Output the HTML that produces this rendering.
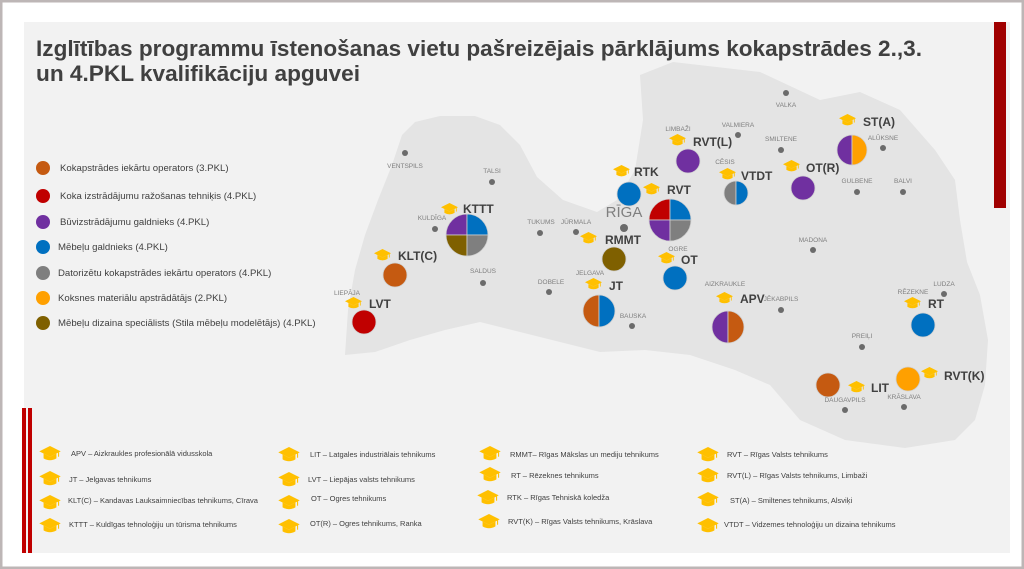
<!DOCTYPE html>
<html><head><meta charset="utf-8"><style>
body{margin:0;background:#fff;}
svg{display:block;font-family:"Liberation Sans",sans-serif;}
</style></head><body>
<svg width="1024" height="569" viewBox="0 0 1024 569" xmlns="http://www.w3.org/2000/svg">
<defs>
<symbol id="cap" viewBox="0 0 20 14">
<polygon points="0,5 10,0 20,5 10,10" fill="#ffc000"/>
<path d="M4,7 L4,11.5 Q10,15 16,11.5 L16,7 L10,10 Z" fill="#ffc000"/>
<path d="M18,5.5 L18,10" stroke="#ffc000" stroke-width="1"/>
</symbol>
</defs>
<rect x="0" y="0" width="1024" height="569" fill="#fff"/>
<rect x="1" y="1" width="1022" height="567" fill="none" stroke="#bdb6b6" stroke-width="3"/>
<rect x="24" y="22" width="986" height="531" fill="#f2f2f2"/>
<rect x="994" y="22" width="12" height="186" fill="#a00000"/>
<rect x="22" y="408" width="4" height="145" fill="#c00000"/>
<rect x="28" y="408" width="4" height="145" fill="#c00000"/>

<!-- map -->
<path d="M345,355 L348,310 L355,270 L365,235 L378,200 L392,165 L402,135 L415,122 L440,116 L475,116 L500,125 L520,145 L537,177 L563,200 L597,212 L617,200 L635,170 L643,120 L640,75 L673,62 L760,72 L820,100 L860,92 L900,110 L935,150 L955,180 L960,220 L967,262 L980,295 L988,340 L985,385 L975,420 L955,440 L905,448 L845,440 L800,420 L770,385 L735,370 L690,355 L645,350 L600,352 L560,342 L520,332 L480,322 L445,330 L410,340 L375,352 Z" fill="#e4e4e4"/>

<!-- title -->
<text x="36" y="56" font-size="22" font-weight="bold" fill="#404040" textLength="886" lengthAdjust="spacingAndGlyphs">Izglītības programmu īstenošanas vietu pašreizējais pārklājums kokapstrādes 2.,3.</text>
<text x="36" y="81" font-size="22" font-weight="bold" fill="#404040" textLength="324" lengthAdjust="spacingAndGlyphs">un 4.PKL  kvalifikāciju apguvei</text>

<!-- left legend -->
<g font-size="9.6" fill="#404040">
<circle cx="43" cy="168" r="7" fill="#c55a11"/><text x="60" y="171">Kokapstrādes iekārtu operators (3.PKL)</text>
<circle cx="43" cy="196" r="7" fill="#c00000"/><text x="60" y="199">Koka izstrādājumu ražošanas tehniķis (4.PKL)</text>
<circle cx="43" cy="222" r="7" fill="#7030a0"/><text x="60" y="225">Būvizstrādājumu galdnieks (4.PKL)</text>
<circle cx="43" cy="247" r="7" fill="#0070c0"/><text x="58" y="250">Mēbeļu galdnieks (4.PKL)</text>
<circle cx="43" cy="273" r="7" fill="#7f7f7f"/><text x="58" y="276">Datorizētu kokapstrādes iekārtu operators (4.PKL)</text>
<circle cx="43" cy="298" r="7" fill="#ffa000"/><text x="58" y="301">Koksnes materiālu apstrādātājs (2.PKL)</text>
<circle cx="43" cy="323" r="7" fill="#7f6000"/><text x="58" y="326">Mēbeļu dizaina speciālists (Stila mēbeļu modelētājs) (4.PKL)</text>
</g>

<!-- city dots -->
<g fill="#6b6b6b">
<circle cx="405" cy="153" r="3"/><circle cx="492" cy="182" r="3"/><circle cx="435" cy="229" r="3"/>
<circle cx="540" cy="233" r="3"/><circle cx="576" cy="232" r="3"/><circle cx="624" cy="228" r="4"/>
<circle cx="483" cy="283" r="3"/><circle cx="549" cy="292" r="3"/><circle cx="632" cy="326" r="3"/>
<circle cx="786" cy="93" r="3"/><circle cx="738" cy="135" r="3"/><circle cx="781" cy="150" r="3"/>
<circle cx="883" cy="148" r="3"/><circle cx="857" cy="192" r="3"/><circle cx="903" cy="192" r="3"/>
<circle cx="813" cy="250" r="3"/><circle cx="781" cy="310" r="3"/><circle cx="944" cy="294" r="3"/>
<circle cx="862" cy="347" r="3"/><circle cx="845" cy="410" r="3"/><circle cx="904" cy="407" r="3"/>
</g>
<g font-size="6.5" fill="#7f7f7f" text-anchor="middle">
<text x="405" y="168">VENTSPILS</text><text x="492" y="173">TALSI</text><text x="432" y="220">KULDĪGA</text>
<text x="541" y="224">TUKUMS</text><text x="576" y="224">JŪRMALA</text><text x="551" y="284">DOBELE</text>
<text x="483" y="273">SALDUS</text><text x="590" y="275">JELGAVA</text><text x="633" y="318">BAUSKA</text>
<text x="347" y="295">LIEPĀJA</text><text x="678" y="251">OGRE</text>
<text x="786" y="107">VALKA</text><text x="738" y="127">VALMIERA</text><text x="678" y="131">LIMBAŽI</text>
<text x="725" y="164">CĒSIS</text><text x="781" y="141">SMILTENE</text><text x="883" y="140">ALŪKSNE</text>
<text x="857" y="183">GULBENE</text><text x="903" y="183">BALVI</text><text x="813" y="242">MADONA</text>
<text x="725" y="286">AIZKRAUKLE</text><text x="781" y="301">JĒKABPILS</text><text x="944" y="286">LUDZA</text>
<text x="913" y="294">RĒZEKNE</text><text x="862" y="338">PREIĻI</text><text x="845" y="402">DAUGAVPILS</text>
<text x="904" y="399">KRĀSLAVA</text>
</g>
<text x="624" y="217" font-size="15" fill="#7f7f7f" text-anchor="middle">RĪGA</text>

<!-- pies -->
<g stroke="#d0d0d0" stroke-width="0.8">
<path d="M467,235 L467,214 A21,21 0 0 0 446,235 Z" fill="#7030a0"/>
<path d="M467,235 L467,214 A21,21 0 0 1 488,235 Z" fill="#0070c0"/>
<path d="M467,235 L446,235 A21,21 0 0 0 467,256 Z" fill="#7f6000"/>
<path d="M467,235 L488,235 A21,21 0 0 1 467,256 Z" fill="#7f7f7f"/>
<path d="M670,220 L670,199 A21,21 0 0 0 649,220 Z" fill="#c00000"/>
<path d="M670,220 L670,199 A21,21 0 0 1 691,220 Z" fill="#0070c0"/>
<path d="M670,220 L649,220 A21,21 0 0 0 670,241 Z" fill="#7030a0"/>
<path d="M670,220 L691,220 A21,21 0 0 1 670,241 Z" fill="#7f7f7f"/>
<path d="M599,295 A16,16 0 0 0 599,327 Z" fill="#c55a11"/>
<path d="M599,295 A16,16 0 0 1 599,327 Z" fill="#0070c0"/>
<path d="M736,181 A12,12 0 0 0 736,205 Z" fill="#7f7f7f"/>
<path d="M736,181 A12,12 0 0 1 736,205 Z" fill="#0070c0"/>
<path d="M852,135 A15,15 0 0 0 852,165 Z" fill="#7030a0"/>
<path d="M852,135 A15,15 0 0 1 852,165 Z" fill="#ffa000"/>
<path d="M728,311 A16,16 0 0 0 728,343 Z" fill="#7030a0"/>
<path d="M728,311 A16,16 0 0 1 728,343 Z" fill="#c55a11"/>
</g>
<g stroke="#d0d0d0" stroke-width="0.8">
<circle cx="395" cy="275" r="12" fill="#c55a11"/>
<circle cx="364" cy="322" r="12" fill="#c00000"/>
<circle cx="614" cy="259" r="12" fill="#7f6000"/>
<circle cx="629" cy="194" r="12" fill="#0070c0"/>
<circle cx="688" cy="161" r="12" fill="#7030a0"/>
<circle cx="803" cy="188" r="12" fill="#7030a0"/>
<circle cx="675" cy="278" r="12" fill="#0070c0"/>
<circle cx="923" cy="325" r="12" fill="#0070c0"/>
<circle cx="908" cy="379" r="12" fill="#ffa000"/>
<circle cx="828" cy="385" r="12" fill="#c55a11"/>
</g>

<!-- map caps + labels -->
<g>
<use href="#cap" x="441" y="203" width="17" height="12"/>
<use href="#cap" x="374" y="249" width="17" height="12"/>
<use href="#cap" x="345" y="297" width="17" height="12"/>
<use href="#cap" x="613" y="165" width="17" height="12"/>
<use href="#cap" x="643" y="183" width="17" height="12"/>
<use href="#cap" x="580" y="232" width="17" height="12"/>
<use href="#cap" x="585" y="278" width="17" height="12"/>
<use href="#cap" x="658" y="252" width="17" height="12"/>
<use href="#cap" x="669" y="134" width="17" height="12"/>
<use href="#cap" x="719" y="168" width="17" height="12"/>
<use href="#cap" x="783" y="160" width="17" height="12"/>
<use href="#cap" x="839" y="114" width="17" height="12"/>
<use href="#cap" x="716" y="292" width="17" height="12"/>
<use href="#cap" x="904" y="297" width="17" height="12"/>
<use href="#cap" x="921" y="367" width="17" height="12"/>
<use href="#cap" x="848" y="381" width="17" height="12"/>
</g>
<g font-size="12" font-weight="bold" fill="#404040">
<text x="463" y="213">KTTT</text><text x="398" y="260">KLT(C)</text><text x="369" y="308">LVT</text>
<text x="634" y="176">RTK</text><text x="667" y="194">RVT</text><text x="605" y="244">RMMT</text>
<text x="609" y="290">JT</text><text x="681" y="264">OT</text><text x="693" y="146">RVT(L)</text>
<text x="741" y="180">VTDT</text><text x="806" y="172">OT(R)</text><text x="863" y="126">ST(A)</text>
<text x="740" y="303">APV</text><text x="928" y="308">RT</text><text x="944" y="380">RVT(K)</text>
<text x="871" y="392">LIT</text>
</g>

<!-- bottom legend -->
<g>
<use href="#cap" x="39" y="446" width="22" height="15"/>
<use href="#cap" x="39" y="471" width="22" height="15"/>
<use href="#cap" x="39" y="495" width="22" height="15"/>
<use href="#cap" x="39" y="518" width="22" height="15"/>
<use href="#cap" x="278" y="447" width="22" height="15"/>
<use href="#cap" x="278" y="472" width="22" height="15"/>
<use href="#cap" x="278" y="495" width="22" height="15"/>
<use href="#cap" x="278" y="519" width="22" height="15"/>
<use href="#cap" x="479" y="446" width="22" height="15"/>
<use href="#cap" x="479" y="467" width="22" height="15"/>
<use href="#cap" x="477" y="490" width="22" height="15"/>
<use href="#cap" x="478" y="514" width="22" height="15"/>
<use href="#cap" x="697" y="447" width="22" height="15"/>
<use href="#cap" x="697" y="468" width="22" height="15"/>
<use href="#cap" x="697" y="492" width="22" height="15"/>
<use href="#cap" x="697" y="518" width="22" height="15"/>
</g>
<g font-size="7.5" fill="#404040">
<text x="71" y="456">APV – Aizkraukles profesionālā vidusskola</text>
<text x="69" y="482">JT – Jelgavas tehnikums</text>
<text x="68" y="503">KLT(C) – Kandavas Lauksaimniecības tehnikums, Cīrava</text>
<text x="69" y="527">KTTT – Kuldīgas tehnoloģiju un tūrisma tehnikums</text>
<text x="310" y="457">LIT – Latgales industriālais tehnikums</text>
<text x="308" y="482">LVT – Liepājas valsts tehnikums</text>
<text x="311" y="501">OT – Ogres tehnikums</text>
<text x="310" y="526">OT(R) – Ogres tehnikums, Ranka</text>
<text x="510" y="457">RMMT– Rīgas Mākslas un mediju tehnikums</text>
<text x="511" y="478">RT – Rēzeknes tehnikums</text>
<text x="507" y="500">RTK – Rīgas Tehniskā koledža</text>
<text x="508" y="524">RVT(K) – Rīgas Valsts tehnikums, Krāslava</text>
<text x="727" y="457">RVT – Rīgas Valsts tehnikums</text>
<text x="727" y="478">RVT(L) – Rīgas Valsts tehnikums, Limbaži</text>
<text x="730" y="503">ST(A) – Smiltenes tehnikums, Alsviķi</text>
<text x="724" y="527">VTDT – Vidzemes tehnoloģiju un dizaina tehnikums</text>
</g>
</svg>
</body></html>
